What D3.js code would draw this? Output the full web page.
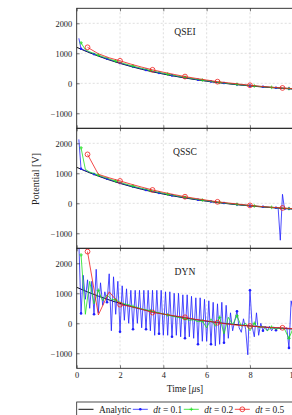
<!DOCTYPE html>
<html>
<head>
<meta charset="utf-8">
<script src="https://cdn.jsdelivr.net/npm/d3@7"></script>
<style>
  body { margin: 0; background: #fff; }
  svg { display: block; font-family: "Liberation Serif", "DejaVu Serif", serif; }
</style>
</head>
<body>
<div id="chart"></div>
<script>
// time axis ticks / value ticks
var xTicks = [0, 2, 4, 6, 8, 10];
var yTicks = [-1000, 0, 1000, 2000];
var panelTitles = ["QSEI", "QSSC", "DYN"];

// analytic solution, every 0.5 us from t = 0
var analytic = [1200, 1045, 905, 778, 664, 561, 467, 383, 307, 239, 177, 121, 70, 25, -16, -54, -87, -118, -145, -170, -192];

// dt = 0.1, t = 0.1 .. 10
var qseiBlue = [1500, 1150, 1120, 1090, 1060, 1031, 1002, 974, 946, 919,
  892, 866, 841, 816, 792, 768, 745, 722, 700, 678,
  656, 635, 614, 594, 574, 554, 535, 517, 498, 480,
  463, 446, 429, 412, 396, 380, 364, 349, 334, 319,
  305, 291, 277, 264, 250, 237, 224, 212, 200, 188,
  176, 165, 153, 142, 131, 120, 110, 100, 90, 80,
  70, 61, 52, 43, 34, 25, 17, 8, 0, -8,
  -16, -23, -31, -38, -45, -52, -59, -66, -72, -79,
  -85, -92, -98, -104, -110, -115, -121, -126, -132, -137,
  -142, -147, -152, -157, -162, -167, -171, -176, -180, -185];
var qsscBlue = [2130, 1150, 1110, 1090, 1060, 1031, 1002, 974, 946, 919,
  892, 866, 841, 816, 792, 768, 745, 722, 700, 678,
  656, 635, 614, 594, 574, 554, 535, 517, 498, 480,
  463, 446, 429, 412, 396, 380, 364, 349, 334, 319,
  305, 291, 277, 264, 250, 237, 224, 212, 200, 188,
  176, 165, 153, 142, 131, 120, 110, 100, 90, 80,
  70, 61, 52, 43, 34, 25, 17, 8, 0, -8,
  -16, -23, -31, -38, -45, -52, -59, -66, -72, -79,
  -85, -92, -98, -104, -110, -115, -121, -126, -132, -137,
  -142, -147, -152, -1230, 300, -220, -175, -178, -182, -186];
var dynBlue = [2700, 330, 1600, 800, 1450, 500, 1400, 300, 1800, 350,
  1350, 600, 1050, 700, 1650, -250, 1550, 300, 1400, -280,
  1250, 100, 1150, 0, 1100, -200, 1100, 0, 1100, -150,
  1100, -200, 1100, -250, 1100, -400, 1100, -350, 1100, -400,
  1050, -400, 1050, -450, 1000, -400, 1000, -450, 950, -500,
  950, -450, 900, -500, 850, -700, 850, -600, 800, -600,
  750, -700, 700, -750, 650, -700, 700, -650, 600, -500,
  350, -250, 100, 400, -150, -300, 150, -200, -1050, 1100,
  -100, -450, 350, -400, 0, -250, -100, -250, -100, -250,
  -120, -230, -130, -200, -150, -180, -150, -820, 750, 400];

// dt = 0.2, t = 0.2 .. 10
var qseiGreen = [1350, 1120, 1050, 995, 940, 888, 838, 790, 744, 700,
  656, 615, 575, 537, 500, 465, 430, 397, 366, 335,
  306, 278, 251, 225, 200, 176, 153, 130, 109, 88,
  68, 49, 31, 14, -3, -19, -34, -49, -63, -76,
  -89, -101, -113, -124, -135, -146, -156, -166, -175, -184];
var qsscGreen = [1850, 1130, 1040, 995, 940, 888, 838, 790, 744, 700,
  656, 615, 575, 537, 500, 465, 430, 397, 366, 335,
  306, 278, 251, 225, 200, 176, 153, 130, 109, 88,
  68, 49, 31, 14, -3, -19, -34, -49, -63, -76,
  -89, -101, -113, -124, -135, -146, -156, -166, -175, -184];
var dynGreen = [2280, 300, 1400, 650, 1100, 750, 950, 800, 780, 700,
  650, 620, 560, 530, 480, 450, 420, 380, 350, 310,
  280, 240, 210, 180, 150, 100, 120, 50, 80, -150,
  150, -100, 200, -350, 200, -50, 250, -100, 0, -250,
  0, -150, -100, -250, -130, -200, -150, -200, -500, -150];

// dt = 0.5, t = 0.5 .. 10
var qseiRed = [1200, 985, 850, 750, 640, 540, 450, 370, 295, 225, 165, 110, 55, 15, -25, -65, -100, -130, -155, -178];
var qsscRed = [1630, 965, 850, 745, 640, 540, 445, 365, 290, 220, 160, 105, 50, 10, -30, -70, -105, -132, -155, -178];
var dynRed = [2390, 280, 1050, 620, 560, 470, 360, 310, 250, 200, 130, 80, 20, -30, -70, -90, -120, -140, -150, -180];

var legendLabels = ["Analytic", "0.1", "0.2", "0.5"];

var width = 292, height = 415;
var panelTop = [8.3, 128.3, 248.3];
var panelH = 120;
var blueC = "#1f1fff", greenC = "#1ee01e", redC = "#f01c1c";

var panels = [
  {title: panelTitles[0], blue: qseiBlue, green: qseiGreen, red: qseiRed},
  {title: panelTitles[1], blue: qsscBlue, green: qsscGreen, red: qsscRed},
  {title: panelTitles[2], blue: dynBlue, green: dynGreen, red: dynRed}
];

var svg = d3.select("#chart").append("svg")
  .attr("width", width)
  .attr("height", height);

var x = d3.scaleLinear().domain([0, 10]).range([76.7, 293.3]);
var fmt = d3.format("d");

function toPts(arr, dt, start) {
  return arr.map(function(v, i){ return [start + i * dt, v]; });
}

function plusPath(s) {
  return "M" + (-s) + ",0H" + s + "M0," + (-s) + "V" + s;
}

panels.forEach(function(p, k){
  var top = panelTop[k];
  var y = d3.scaleLinear().domain([-1500, 2500]).range([top + panelH, top]);
  var g = svg.append("g");

  var clipId = "clip" + k;
  svg.append("clipPath").attr("id", clipId)
    .append("rect")
    .attr("x", x(0)).attr("y", top)
    .attr("width", x(10) - x(0)).attr("height", panelH);

  // grid
  g.append("g").selectAll("line").data(xTicks.slice(1, -1)).enter().append("line")
    .attr("x1", function(d){ return x(d); }).attr("x2", function(d){ return x(d); })
    .attr("y1", top).attr("y2", top + panelH)
    .attr("stroke", "#c8c8c8").attr("stroke-width", 0.6).attr("stroke-dasharray", "2,2");
  g.append("g").selectAll("line").data(yTicks).enter().append("line")
    .attr("x1", x(0)).attr("x2", x(10))
    .attr("y1", function(d){ return y(d); }).attr("y2", function(d){ return y(d); })
    .attr("stroke", "#c8c8c8").attr("stroke-width", 0.6).attr("stroke-dasharray", "2,2");

  var line = d3.line().x(function(d){ return x(d[0]); }).y(function(d){ return y(d[1]); });
  var plot = g.append("g").attr("clip-path", "url(#" + clipId + ")");

  plot.append("path")
    .attr("d", line.curve(d3.curveMonotoneX)(toPts(analytic, 0.5, 0)))
    .attr("fill", "none").attr("stroke", "#111").attr("stroke-width", 1);
  line.curve(d3.curveLinear);

  var blue = toPts(p.blue, 0.1, 0.1);
  var green = toPts(p.green, 0.2, 0.2);
  var red = toPts(p.red, 0.5, 0.5);

  plot.append("path").attr("d", line(blue))
    .attr("fill", "none").attr("stroke", blueC).attr("stroke-width", 0.8);
  plot.append("g").selectAll("circle")
    .data(blue.filter(function(d, i){ return i % 6 === 1; }))
    .enter().append("circle")
    .attr("cx", function(d){ return x(d[0]); }).attr("cy", function(d){ return y(d[1]); })
    .attr("r", 1.3).attr("fill", blueC);

  plot.append("path").attr("d", line(green))
    .attr("fill", "none").attr("stroke", greenC).attr("stroke-width", 0.8);
  plot.append("g").selectAll("path")
    .data(green.filter(function(d, i){ return i % 4 === 0; }))
    .enter().append("path")
    .attr("transform", function(d){ return "translate(" + x(d[0]) + "," + y(d[1]) + ")"; })
    .attr("d", plusPath(1.8)).attr("stroke", greenC).attr("stroke-width", 0.8);

  plot.append("path").attr("d", line(red))
    .attr("fill", "none").attr("stroke", redC).attr("stroke-width", 0.8);
  plot.append("g").selectAll("circle")
    .data(red.filter(function(d, i){ return i % 3 === 0; }))
    .enter().append("circle")
    .attr("cx", function(d){ return x(d[0]); }).attr("cy", function(d){ return y(d[1]); })
    .attr("r", 2.4).attr("fill", "none").attr("stroke", redC).attr("stroke-width", 0.8);

  // axes, ticks inward
  var yAxis = d3.axisLeft(y).tickValues(yTicks).tickFormat(fmt).tickSize(-3).tickPadding(4.5);
  var ga = g.append("g").attr("transform", "translate(" + x(0) + ",0)").call(yAxis);
  var xb = d3.axisBottom(x).tickValues(xTicks).tickFormat(fmt).tickSize(-3).tickPadding(3.3);
  if (k < 2) xb.tickFormat("");
  var gb = g.append("g").attr("transform", "translate(0," + (top + panelH) + ")").call(xb);
  var gt = g.append("g").attr("transform", "translate(0," + top + ")")
    .call(d3.axisTop(x).tickValues(xTicks).tickSize(-3).tickFormat(""));
  [ga, gb, gt].forEach(function(a){
    a.attr("font-family", null).attr("font-size", null);
    a.select(".domain").remove();
    a.selectAll("line").attr("stroke", "#222").attr("stroke-width", 0.6);
    a.selectAll("text").attr("font-family", "Liberation Serif").attr("font-size", 8.4).attr("fill", "#222");
  });

  g.append("rect")
    .attr("x", x(0)).attr("y", top)
    .attr("width", x(10) - x(0)).attr("height", panelH)
    .attr("fill", "none").attr("stroke", "#222").attr("stroke-width", 0.9);

  g.append("text")
    .attr("x", x(5)).attr("y", top + 27)
    .attr("text-anchor", "middle").attr("font-size", 9.6).attr("fill", "#222")
    .text(p.title);
});

// axis labels
var xl = svg.append("text")
  .attr("x", x(5)).attr("y", 391.5)
  .attr("text-anchor", "middle").attr("font-size", 9.4).attr("fill", "#222");
xl.append("tspan").text("Time [");
xl.append("tspan").attr("font-style", "italic").text("μ");
xl.append("tspan").text("s]");

svg.append("text")
  .attr("transform", "translate(38.5,179) rotate(-90)")
  .attr("text-anchor", "middle").attr("font-size", 10).attr("fill", "#222")
  .text("Potential [V]");

// legend
var lg = svg.append("g");
lg.append("rect")
  .attr("x", 76.7).attr("y", 402).attr("width", 230).attr("height", 20)
  .attr("fill", "#fff").attr("stroke", "#222").attr("stroke-width", 0.8);

var legendColors = ["#111", blueC, greenC, redC];
var cx = 78.5, ly = 409.3;
legendLabels.forEach(function(lab, i){
  var c = legendColors[i];
  lg.append("line").attr("x1", cx).attr("x2", cx + 15).attr("y1", ly).attr("y2", ly)
    .attr("stroke", c).attr("stroke-width", i === 0 ? 1 : 0.8);
  if (i === 1) lg.append("circle").attr("cx", cx + 7.5).attr("cy", ly).attr("r", 1.3).attr("fill", c);
  if (i === 2) lg.append("path").attr("transform", "translate(" + (cx + 7.5) + "," + ly + ")")
    .attr("d", plusPath(1.8)).attr("stroke", c).attr("stroke-width", 0.8);
  if (i === 3) lg.append("circle").attr("cx", cx + 7.5).attr("cy", ly).attr("r", 2.4)
    .attr("fill", "none").attr("stroke", c).attr("stroke-width", 0.8);
  var t = lg.append("text").attr("x", cx + 20.5).attr("y", ly + 3.2)
    .attr("font-size", 9.4).attr("fill", "#222");
  if (i === 0) {
    t.text(lab);
  } else {
    t.append("tspan").attr("font-style", "italic").text("dt");
    t.append("tspan").text(" = " + lab);
  }
  cx = cx + 20.5 + t.node().getComputedTextLength() + 1.5;
});
</script>
</body>
</html>
